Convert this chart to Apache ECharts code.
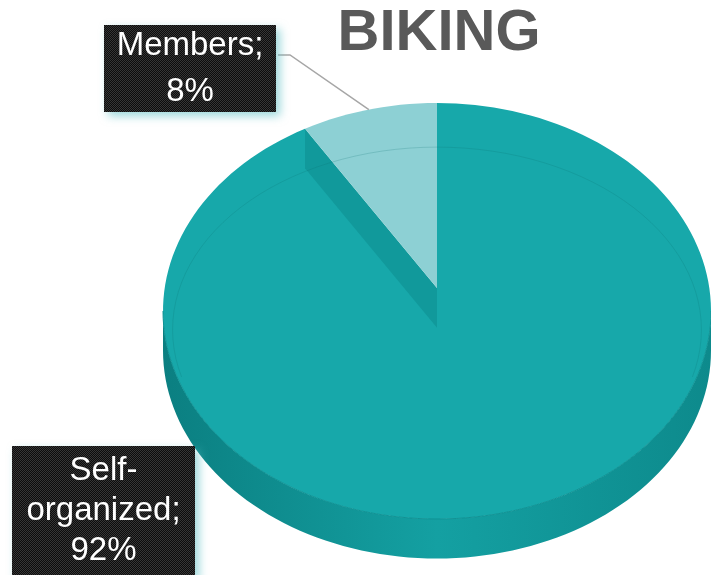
<!DOCTYPE html>
<html>
<head>
<meta charset="utf-8">
<script src="https://cdn.jsdelivr.net/npm/echarts@6/dist/echarts.min.js"></script>
<style>
  html, body { margin: 0; padding: 0; background: #fff; }
  #chart { width: 711px; height: 575px; }
</style>
</head>
<body>
<div id="chart"></div>
<script>
const categories = ["Members", "Self-organized"];
const shares = [8, 92];
const titleText = "BIKING";

// look of the tilted pie
const topColors = ["#8dd0d4", "#17a8aa"];
const wallColor = "#11999b";
const depth = 0.19;   // height of the side, in y units
const explode = 0.11; // members wedge pulled back a bit
const labelBoxes = [
  { x: 104, y: 25, w: 172, h: 87, ty: 69, lh: 46, anchor: [278, 55], elbow: [290, 55] },
  { x: 12, y: 446, w: 183, h: 132, ty: 511, lh: 40 }
];

const total = shares.reduce((a, b) => a + b, 0);
const starts = [];
let acc = 0;
shares.forEach(v => {
  starts.push(90 + (acc / total) * 360);
  acc += v;
});

// dotted black texture of the label boxes
const tex = document.createElement("canvas");
tex.width = tex.height = 2;
const tc = tex.getContext("2d");
tc.fillStyle = "#0c0c0c";
tc.fillRect(0, 0, 2, 2);
tc.fillStyle = "#363636";
tc.fillRect(0, 0, 1, 1);
tc.fillRect(1, 1, 1, 1);
const boxFill = { image: tex, repeat: "repeat" };

function pt(api, deg, dy) {
  const r = (deg * Math.PI) / 180;
  return api.coord([Math.cos(r), Math.sin(r) + (dy || 0)]);
}
function arc(api, a0, a1, dy) {
  const pts = [];
  const n = Math.max(2, Math.ceil(Math.abs(a1 - a0) / 2));
  for (let k = 0; k <= n; k++) pts.push(pt(api, a0 + ((a1 - a0) * k) / n, dy));
  return pts;
}
// parts of a slice that face the viewer (lower half of the ellipse)
function frontParts(s, e) {
  const parts = [];
  [[180, 360], [540, 720]].forEach(([a, b]) => {
    const lo = Math.max(a, s), hi = Math.min(b, e);
    if (hi > lo) parts.push([lo, hi]);
  });
  return parts;
}
function labelText(i) {
  return categories[i].replace("-", "-\n") + ";\n" + shares[i] + "%";
}

const chart = echarts.init(document.getElementById("chart"));

chart.setOption({
  animation: false,
  grid: { left: 163, top: 103, width: 550, height: 416 },
  xAxis: { type: "value", min: -1, max: 1, show: false },
  yAxis: { type: "value", min: -1, max: 1, show: false },
  graphic: [
    {
      type: "text",
      x: 439,
      y: 34,
      style: {
        text: titleText,
        fill: "#595959",
        font: 'bold 58px "Liberation Sans", Arial, sans-serif',
        align: "center",
        verticalAlign: "middle"
      }
    }
  ],
  series: [
    {
      type: "custom",
      data: categories.map((c, i) => ({ name: c, value: [i, shares[i]] })),
      renderItem(params, api) {
        const i = params.dataIndex;
        const s = starts[i];
        const e = s + (shares[i] / total) * 360;
        const children = [];

        frontParts(s, e).forEach(([a, b]) => {
          const top = arc(api, a, b, 0);
          const bot = arc(api, b, a, -depth);
          children.push({
            type: "polygon",
            z2: 1,
            shape: { points: top.concat(bot) },
            style: {
              fill: new echarts.graphic.LinearGradient(0, 0, 1, 0, [
                { offset: 0, color: "#0b7f81" },
                { offset: 0.5, color: "#14a0a2" },
                { offset: 1, color: "#0d8a8c" }
              ])
            }
          });
          children.push({
            type: "polyline",
            z2: 3,
            shape: { points: top },
            style: { stroke: "#0f9294", lineWidth: 1, fill: null }
          });
        });

        const tipDy = i === 0 ? explode : 0;
        const tip = api.coord([0, tipDy]);
        children.push({
          type: "polygon",
          z2: i === 0 ? 5 : 2,
          shape: { points: [tip].concat(arc(api, s, e, 0)) },
          style: { fill: topColors[i] }
        });

        if (i === 0) {
          // side wall of the pulled-out wedge
          children.push({
            type: "polygon",
            z2: 4,
            shape: {
              points: [tip, pt(api, e, 0), pt(api, e, -depth), api.coord([0, tipDy - depth])]
            },
            style: { fill: wallColor }
          });
        } else {
          // faint bevel line on the top face
          const bevel = [];
          for (let d = -15; d <= 195; d += 3) {
            const r = (d * Math.PI) / 180;
            bevel.push(api.coord([0.965 * Math.cos(r), -0.09 + 0.878 * Math.sin(r)]));
          }
          children.push({
            type: "polyline",
            z2: 6,
            shape: { points: bevel },
            style: { stroke: "rgba(10,110,112,0.2)", lineWidth: 1, fill: null }
          });
        }

        const b = labelBoxes[i];
        if (b.anchor) {
          children.push({
            type: "polyline",
            z2: 9,
            shape: { points: [b.anchor, b.elbow, pt(api, (s + e) / 2, 0)] },
            style: { stroke: "#a6a6a6", lineWidth: 1.5, fill: null }
          });
        }
        children.push({
          type: "rect",
          z2: 10,
          shape: { x: b.x, y: b.y, width: b.w, height: b.h },
          style: {
            fill: boxFill,
            shadowBlur: 10,
            shadowColor: "rgba(90,190,195,0.6)",
            shadowOffsetX: 4,
            shadowOffsetY: 4
          }
        });
        children.push({
          type: "text",
          z2: 11,
          x: b.x + b.w / 2,
          y: b.ty,
          style: {
            text: labelText(i),
            fill: "#fff",
            font: '33px "Liberation Sans", Arial, sans-serif',
            align: "center",
            verticalAlign: "middle",
            lineHeight: b.lh
          }
        });

        return { type: "group", children };
      }
    }
  ]
});
</script>
</body>
</html>
